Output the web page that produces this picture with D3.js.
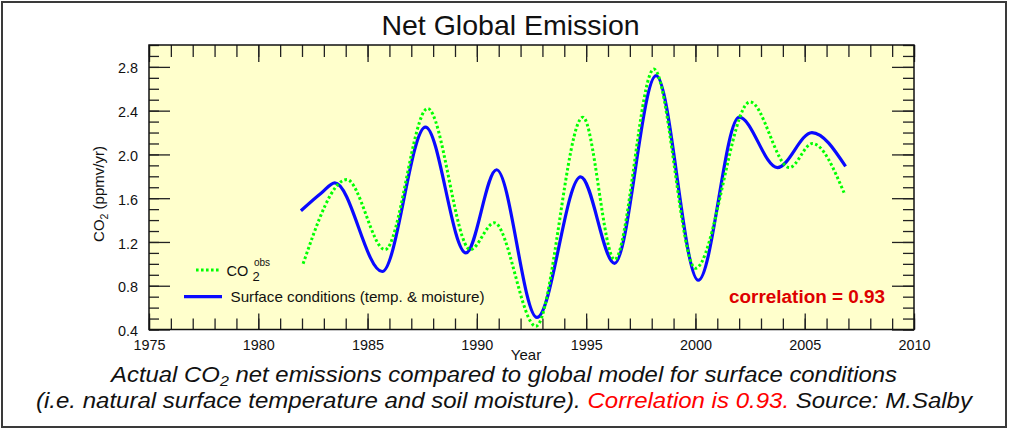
<!DOCTYPE html>
<html>
<head>
<meta charset="utf-8">
<script src="https://cdn.jsdelivr.net/npm/d3@7/dist/d3.min.js"></script>
<style>
  html, body { margin: 0; padding: 0; background: #fff; }
  svg { display: block; }
  text { font-family: "Liberation Sans", Arial, Helvetica, sans-serif; fill: #111; }
</style>
</head>
<body>
<svg id="chart" width="1012" height="429"></svg>
<script>
// ---- data ----
const obsYears   = [1982.05, 1984.05, 1985.8, 1987.75, 1989.7, 1990.8, 1992.7, 1994.85, 1996.3, 1998.1, 2000.0, 2002.5, 2004.3, 2005.35, 2006.8];
const obsValues  = [1.00, 1.77, 1.13, 2.42, 1.13, 1.375, 0.43, 2.34, 1.04, 2.78, 0.96, 2.48, 1.88, 2.10, 1.65];
const modelYears  = [1981.95, 1982.9, 1983.5, 1985.67, 1987.65, 1989.5, 1990.9, 1992.75, 1994.75, 1996.3, 1998.2, 2000.13, 2002.0, 2003.75, 2005.33, 2006.87];
const modelValues = [1.485, 1.65, 1.74, 0.93, 2.25, 1.10, 1.86, 0.51, 1.795, 1.005, 2.72, 0.85, 2.34, 1.88, 2.20, 1.89];
const xTickLabels = [1975, 1980, 1985, 1990, 1995, 2000, 2005, 2010];
const yTickLabels = [0.4, 0.8, 1.2, 1.6, 2.0, 2.4, 2.8];
const xMinorTicks = d3.range(1975, 2011, 1);
const yMinorTicks = d3.range(4, 31, 1).map(d => d / 10);
const titleText = "Net Global Emission";
const legendObs = "CO";
const legendModel = "Surface conditions (temp. & moisture)";
const correlationText = "correlation = 0.93";

// ---- layout ----
const svg = d3.select("#chart");
const L = 149, R = 914, T = 45, B = 329.5;
const x = d3.scaleLinear().domain([1975, 2010]).range([L, R]);
const y = d3.scaleLinear().domain([0.4, 3.0]).range([B, T]);

// outer frame
svg.append("rect").attr("x", 2).attr("y", 2).attr("width", 1004).attr("height", 425)
  .attr("fill", "#fff").attr("stroke", "#3a3a3a").attr("stroke-width", 2);

// plot background
svg.append("rect").attr("x", L).attr("y", T).attr("width", R - L).attr("height", B - T)
  .attr("fill", "#ffffcc");

// title
svg.append("text").attr("x", 510.5).attr("y", 35).attr("text-anchor", "middle")
  .attr("font-size", 28.5).text(titleText);

// axes helper
function styleAxis(g) {
  g.select(".domain").remove();
  g.selectAll(".tick line").attr("stroke", "#222").attr("stroke-width", 1.3);
  g.selectAll(".tick text").attr("font-family", '"Liberation Sans", Arial, sans-serif').attr("fill", "#111");
}

// bottom major & minor
svg.append("g").attr("transform", `translate(0,${B})`)
  .call(d3.axisBottom(x).tickValues(xMinorTicks).tickFormat("").tickSizeInner(-11).tickSizeOuter(0))
  .call(styleAxis);
svg.append("g").attr("transform", `translate(0,${B})`)
  .call(d3.axisBottom(x).tickValues(xTickLabels).tickFormat(d3.format("d")).tickSizeInner(-16).tickSizeOuter(0).tickPadding(10))
  .call(styleAxis)
  .call(g => g.selectAll(".tick text").attr("font-size", 14.4));

// top
svg.append("g").attr("transform", `translate(0,${T})`)
  .call(d3.axisTop(x).tickValues(xMinorTicks).tickFormat("").tickSizeInner(-12).tickSizeOuter(0))
  .call(styleAxis);
svg.append("g").attr("transform", `translate(0,${T})`)
  .call(d3.axisTop(x).tickValues(xTickLabels).tickFormat("").tickSizeInner(-17).tickSizeOuter(0))
  .call(styleAxis);

// left
svg.append("g").attr("transform", `translate(${L},0)`)
  .call(d3.axisLeft(y).tickValues(yMinorTicks).tickFormat("").tickSizeInner(-10).tickSizeOuter(0))
  .call(styleAxis);
svg.append("g").attr("transform", `translate(${L},0)`)
  .call(d3.axisLeft(y).tickValues(yTickLabels).tickFormat(d3.format(".1f")).tickSizeInner(-21).tickSizeOuter(0).tickPadding(11))
  .call(styleAxis)
  .call(g => g.selectAll(".tick text").attr("font-size", 14.4).attr("dy", "0.42em"));

// right
svg.append("g").attr("transform", `translate(${R},0)`)
  .call(d3.axisRight(y).tickValues(yMinorTicks).tickFormat("").tickSizeInner(-11).tickSizeOuter(0))
  .call(styleAxis);
svg.append("g").attr("transform", `translate(${R},0)`)
  .call(d3.axisRight(y).tickValues(yTickLabels).tickFormat("").tickSizeInner(-22).tickSizeOuter(0))
  .call(styleAxis);

// plot border
svg.append("rect").attr("x", L).attr("y", T).attr("width", R - L).attr("height", B - T)
  .attr("fill", "none").attr("stroke", "#111").attr("stroke-width", 1.5);

// lines
const obsData = obsYears.map((yr, i) => ({ x: yr, y: obsValues[i] }));
const modelData = modelYears.map((yr, i) => ({ x: yr, y: modelValues[i] }));
const line = d3.line().x(d => x(d.x)).y(d => y(d.y)).curve(d3.curveMonotoneX);

svg.append("path").datum(modelData).attr("d", line)
  .attr("fill", "none").attr("stroke", "#0a0aff").attr("stroke-width", 3.2)
  .attr("stroke-linejoin", "round");
svg.append("path").datum(obsData).attr("d", line)
  .attr("fill", "none").attr("stroke", "#00ff00").attr("stroke-width", 3)
  .attr("stroke-dasharray", "2.6 2.4");

// legend
svg.append("line").attr("x1", 196).attr("x2", 220).attr("y1", 270).attr("y2", 270)
  .attr("stroke", "#00ff00").attr("stroke-width", 3).attr("stroke-dasharray", "2.6 2.4");
svg.append("text").attr("x", 226.5).attr("y", 275.5).attr("font-size", 14.5).text(legendObs);
svg.append("text").attr("x", 252.5).attr("y", 280.5).attr("font-size", 13).text("2");
svg.append("text").attr("x", 254).attr("y", 266).attr("font-size", 10).text("obs");

svg.append("line").attr("x1", 184).attr("x2", 222).attr("y1", 296.7).attr("y2", 296.7)
  .attr("stroke", "#0a0aff").attr("stroke-width", 3.2);
svg.append("text").attr("x", 230.5).attr("y", 302).attr("font-size", 14.2)
  .attr("textLength", 254).attr("lengthAdjust", "spacingAndGlyphs").text(legendModel);

// correlation
svg.append("text").attr("x", 885).attr("y", 302.5).attr("text-anchor", "end")
  .attr("font-size", 18.9).attr("font-weight", "bold").style("fill", "#dd0000")
  .text(correlationText);

// axis titles
svg.append("text").attr("x", 526).attr("y", 359.5).attr("text-anchor", "middle")
  .attr("font-size", 15).text("Year");
const yl = svg.append("text").attr("transform", "translate(104,194) rotate(-90)")
  .attr("text-anchor", "middle").attr("font-size", 15);
yl.append("tspan").text("CO");
yl.append("tspan").attr("font-size", 10.5).attr("dy", 4).text("2");
yl.append("tspan").attr("dy", -4).text(" (ppmv/yr)");

// caption
const c1 = svg.append("text").attr("x", 504).attr("y", 381.7).attr("text-anchor", "middle")
  .attr("font-size", 22.3).attr("font-style", "italic")
  .attr("textLength", 786).attr("lengthAdjust", "spacingAndGlyphs");
c1.append("tspan").text("Actual CO");
c1.append("tspan").attr("font-size", 15).attr("dy", 4).text("2");
c1.append("tspan").attr("dy", -4).text(" net emissions compared to global model for surface conditions");

const c2 = svg.append("text").attr("x", 504).attr("y", 408.3).attr("text-anchor", "middle")
  .attr("font-size", 22.3).attr("font-style", "italic")
  .attr("textLength", 936).attr("lengthAdjust", "spacingAndGlyphs");
c2.append("tspan").text("(i.e. natural surface temperature and soil moisture). ");
c2.append("tspan").style("fill", "#ff0000").text("Correlation is 0.93.");
c2.append("tspan").text(" Source: M.Salby");
</script>
</body>
</html>
